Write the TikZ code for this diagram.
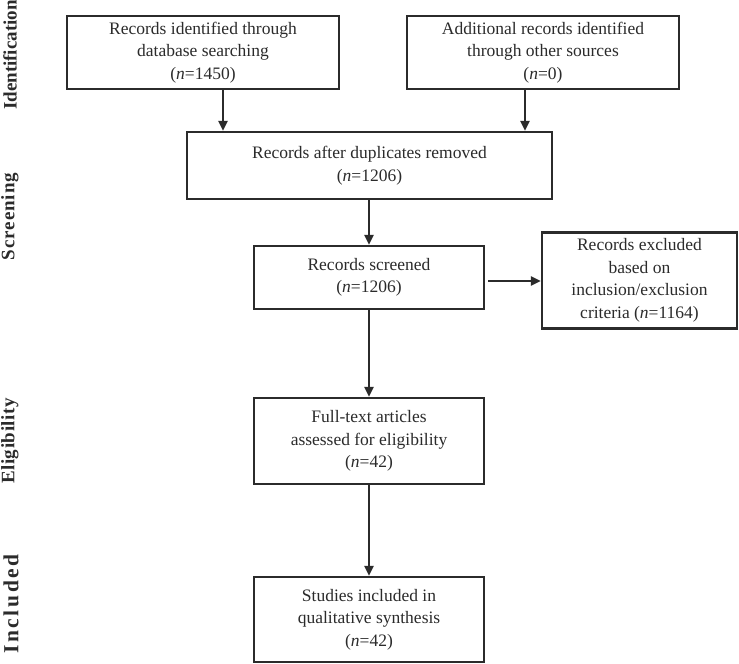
\documentclass[tikz,border=0pt]{standalone}
\usepackage{fontspec}
\setmainfont{Liberation Serif}
\usetikzlibrary{arrows.meta}
\definecolor{ink}{HTML}{2B2B2B}
\begin{document}
\begin{tikzpicture}[x=1pt,y=-1pt,
  box/.style={draw=ink, line width=2.4pt, text=ink, align=center, inner sep=0pt,
    font=\fontsize{17.5}{22.5}\selectfont},
  arr/.style={draw=ink, line width=2.4pt, -{Triangle[length=10pt,width=9pt]}},
  phase/.style={rotate=90, text=ink, inner sep=0pt, font=\fontsize{19}{22}\selectfont\bfseries}]
\useasboundingbox (0,0) rectangle (739,664);
\node[box, minimum width=272pt, minimum height=73pt] (b1) at (203,52.5)
  {Records identified through\\ database searching\\ (\textit{n}=1450)};
\node[box, minimum width=272pt, minimum height=73pt] (b2) at (543,52.5)
  {Additional records identified\\ through other sources\\ (\textit{n}=0)};
\node[box, minimum width=365pt, minimum height=67pt] (b3) at (369.5,165.5)
  {Records after duplicates removed\\ (\textit{n}=1206)};
\node[box, minimum width=230pt, minimum height=63pt] (b4) at (369,277.5)
  {Records screened\\ (\textit{n}=1206)};
\node[box, minimum width=195pt, minimum height=96pt] (b5) at (639.5,280.5)
  {Records excluded\\ based on\\ inclusion/exclusion\\ criteria (\textit{n}=1164)};
\node[box, minimum width=230pt, minimum height=86pt] (b6) at (369,441)
  {Full-text articles\\ assessed for eligibility\\ (\textit{n}=42)};
\node[box, minimum width=230pt, minimum height=85pt] (b7) at (369,619.5)
  {Studies included in\\ qualitative synthesis\\ (\textit{n}=42)};
\node[phase] (p1) at (10,55) {Identification};
\node[phase] (p2) at (10,216.5) {\addfontfeatures{LetterSpace=5}Screening};
\node[phase] (p3) at (10,441) {\addfontfeatures{LetterSpace=3}Eligibility};
\node[phase] (p4) at (11,604) {\fontsize{21.5}{24}\selectfont\addfontfeatures{LetterSpace=12}Included};
\draw[arr] ([xshift=20pt]b1.south) -- ([xshift=20pt]b1.south |- b3.north);
\draw[arr] ([xshift=-18pt]b2.south) -- ([xshift=-18pt]b2.south |- b3.north);
\draw[arr] (b3.south -| b4.north) -- (b4.north);
\draw[arr] ([xshift=3pt,yshift=-3.5pt]b4.east) -- ([yshift=-3.5pt]b4.east -| b5.west);
\draw[arr] (b4.south) -- (b6.north);
\draw[arr] (b6.south) -- (b7.north);
\end{tikzpicture}
\end{document}
